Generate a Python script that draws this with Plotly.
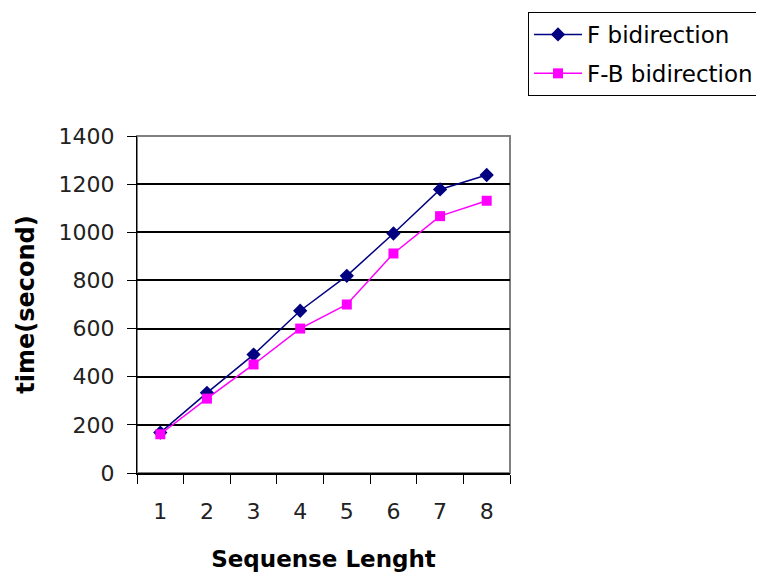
import plotly.graph_objects as go

categories = ["1", "2", "3", "4", "5", "6", "7", "8"]
f_bidirection = [168, 333, 492, 674, 819, 995, 1178, 1238]
fb_bidirection = [161, 309, 451, 600, 700, 912, 1067, 1131]
y_ticks = [0, 200, 400, 600, 800, 1000, 1200, 1400]

fig = go.Figure()
fig.add_trace(go.Scatter(
    x=categories, y=f_bidirection, name="F bidirection", mode="lines+markers",
    legendgroup="a",
    line=dict(color="#000080", width=1.5),
    marker=dict(symbol="diamond", size=11, color="#000080"),
))
fig.add_trace(go.Scatter(
    x=categories, y=fb_bidirection, name="F-B bidirection", mode="lines+markers",
    legendgroup="b",
    line=dict(color="#FF00FF", width=1.5),
    marker=dict(symbol="square", size=10, color="#FF00FF"),
))

font = "DejaVu Sans, sans-serif"
W, H = 756, 565
fig.update_layout(
    width=W, height=H,
    margin=dict(l=129, r=254, t=128, b=100, autoexpand=False),
    paper_bgcolor="white", plot_bgcolor="white",
    font=dict(family=font, size=22, color="black"),
    showlegend=True,
    legend=dict(
        xref="container", yref="container", x=(528 - 8) / W, y=1 - 4 / H,
        xanchor="left", yanchor="top",
        bordercolor="black", borderwidth=1, bgcolor="white",
        font=dict(family=font, size=23, color="black"),
        tracegroupgap=6, itemwidth=48,
    ),
    xaxis=dict(
        type="category", range=[-0.5, 7.5], tickson="boundaries",
        ticks="outside", ticklen=9, tickcolor="black", tickwidth=1,
        showline=True, linecolor="black", linewidth=2,
        showgrid=False, zeroline=False, automargin=False,
        tickfont=dict(size=22, color="#222222"), ticklabelstandoff=18,
        title=dict(text="<b>Sequense Lenght</b>", font=dict(size=23), standoff=27),
    ),
    yaxis=dict(
        range=[0, 1400], tickvals=y_ticks,
        ticks="outside", ticklen=9, tickcolor="black", tickwidth=1,
        showline=True, linecolor="black", linewidth=1,
        showgrid=True, gridcolor="black", gridwidth=2,
        zeroline=False, automargin=False,
        tickfont=dict(size=22, color="#222222"), ticklabelstandoff=8,
        title=dict(text="<b>time(second)</b>", font=dict(size=24), standoff=17),
    ),
    shapes=[dict(
        type="rect", xref="paper", yref="paper", x0=0, y0=0, x1=1, y1=1,
        line=dict(color="#808080", width=2), layer="below",
    )],
)

fig.write_html("out.html")
